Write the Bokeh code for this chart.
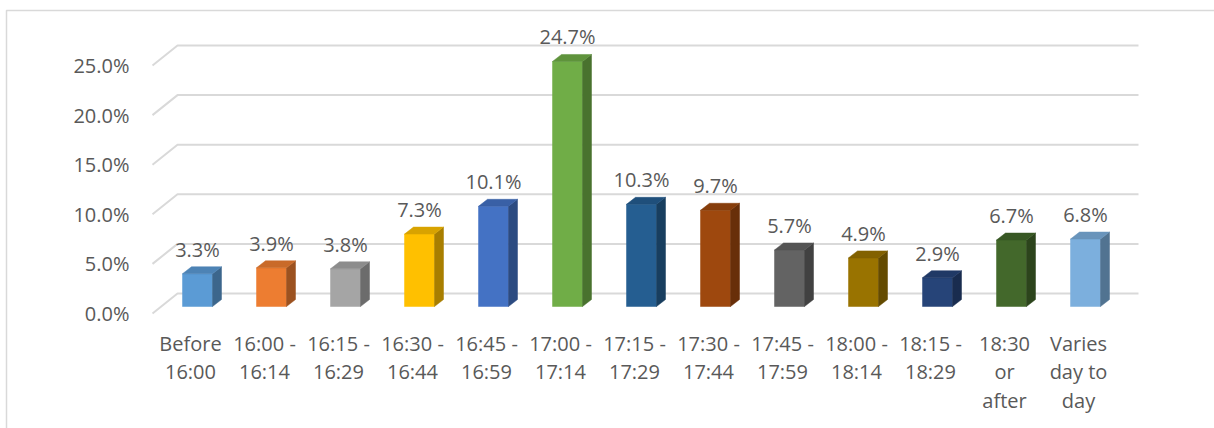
from bokeh.plotting import figure
from bokeh.models import Range1d
from bokeh.core.properties import value
from bokeh.embed import file_html
from bokeh.resources import INLINE

# ---- data -------------------------------------------------------------
categories = ["Before\n16:00", "16:00 -\n16:14", "16:15 -\n16:29", "16:30 -\n16:44",
              "16:45 -\n16:59", "17:00 -\n17:14", "17:15 -\n17:29", "17:30 -\n17:44",
              "17:45 -\n17:59", "18:00 -\n18:14", "18:15 -\n18:29", "18:30\nor\nafter",
              "Varies\nday to\nday"]
shares = [3.3, 3.9, 3.8, 7.3, 10.1, 24.7, 10.3, 9.7, 5.7, 4.9, 2.9, 6.7, 6.8]
y_ticks = [0, 5, 10, 15, 20, 25]
bar_colors = ["#5B9BD5", "#ED7D31", "#A5A5A5", "#FFC000", "#4472C4", "#70AD47",
              "#255E91", "#9E480E", "#636363", "#997300", "#264478", "#43682B",
              "#7CAFDD"]

# ---- geometry (pixel scale of the drawing) -----------------------------
W, H = 1214, 428
PX_X = 74.0      # pixels per category step
PX_Y = 9.92      # pixels per percentage point
X0_PX = 197.0    # pixel x of first bar front centre
Y0_PX = 313.0    # pixel y of 0% on the front plane

def dx(px):
    return px / PX_X

def dy(px):
    return px / PX_Y

TEXT = "#595959"
GRID = "#D9D9D9"
FONT = value("Open Sans")
FSIZE = "20px"


def shade(hex_color, f):
    h = hex_color.lstrip("#")
    r, g, b = (int(h[i:i + 2], 16) for i in (0, 2, 4))
    return "#%02x%02x%02x" % (int(r * f), int(g * f), int(b * f))


p = figure(width=W, height=H, output_backend="svg", toolbar_location=None,
           x_range=Range1d(-X0_PX / PX_X, (W - X0_PX) / PX_X),
           y_range=Range1d(-(H - Y0_PX) / PX_Y, Y0_PX / PX_Y),
           min_border=0, x_axis_location=None, y_axis_location=None,
           outline_line_color=None)
p.grid.visible = False
p.background_fill_color = "white"
p.border_fill_color = "white"

# chart area border (left and top edges)
bx = dx(6 - X0_PX)
p.line([bx, bx, dx(W - X0_PX)], [-(H - Y0_PX) / PX_Y, dy(Y0_PX - 10), dy(Y0_PX - 10)],
       line_color=GRID, line_width=1.5)

# back wall gridlines and their floor diagonals
wall_dx, wall_dy = dx(25), dy(20)
front_x = dx(152 - X0_PX)
right_x = dx(1138 - X0_PX)
for t in y_ticks:
    p.line([front_x, front_x + wall_dx, right_x], [t, t + wall_dy, t + wall_dy],
           line_color=GRID, line_width=2)

# y tick labels
p.text(x=[dx(129 - X0_PX)] * len(y_ticks), y=y_ticks,
       text=["%.1f%%" % t for t in y_ticks],
       text_align="right", text_baseline="middle", text_font=FONT,
       text_font_size=FSIZE, text_color=TEXT)

# 3-D bars
hw = dx(15)              # half of the front face width
sdx, sdy = dx(9), dy(7)  # depth offset
base = dy(7)             # bar base on the floor
idx = list(range(len(shares)))

p.quad(left=[i - hw for i in idx], right=[i + hw for i in idx],
       bottom=[base] * len(idx), top=[base + v for v in shares],
       fill_color=bar_colors, line_color=bar_colors, line_width=0.5)

side_xs, side_ys, top_xs, top_ys = [], [], [], []
for i, v in zip(idx, shares):
    r = i + hw
    side_xs.append([r, r + sdx, r + sdx, r])
    side_ys.append([base, base + sdy, base + v + sdy, base + v])
    top_xs.append([i - hw, r, r + sdx, i - hw + sdx])
    top_ys.append([base + v, base + v, base + v + sdy, base + v + sdy])

side_c = [shade(c, 0.66) for c in bar_colors]
top_c = [shade(c, 0.85) for c in bar_colors]
p.patches(side_xs, side_ys, fill_color=side_c, line_color=side_c, line_width=0.5)
p.patches(top_xs, top_ys, fill_color=top_c, line_color=top_c, line_width=0.5)

# value labels
p.text(x=idx, y=[base + v + sdy + dy(17.5) for v in shares],
       text=["%.1f%%" % v for v in shares],
       text_align="center", text_baseline="alphabetic", text_font=FONT,
       text_font_size=FSIZE, text_color=TEXT)

# category labels
p.text(x=[i - dx(7) for i in idx], y=[dy(Y0_PX - 329)] * len(idx), text=categories,
       text_align="center", text_baseline="top", text_line_height=1.07,
       text_font=FONT, text_font_size=FSIZE, text_color=TEXT)

open("out.html", "w").write(file_html(p, INLINE))
